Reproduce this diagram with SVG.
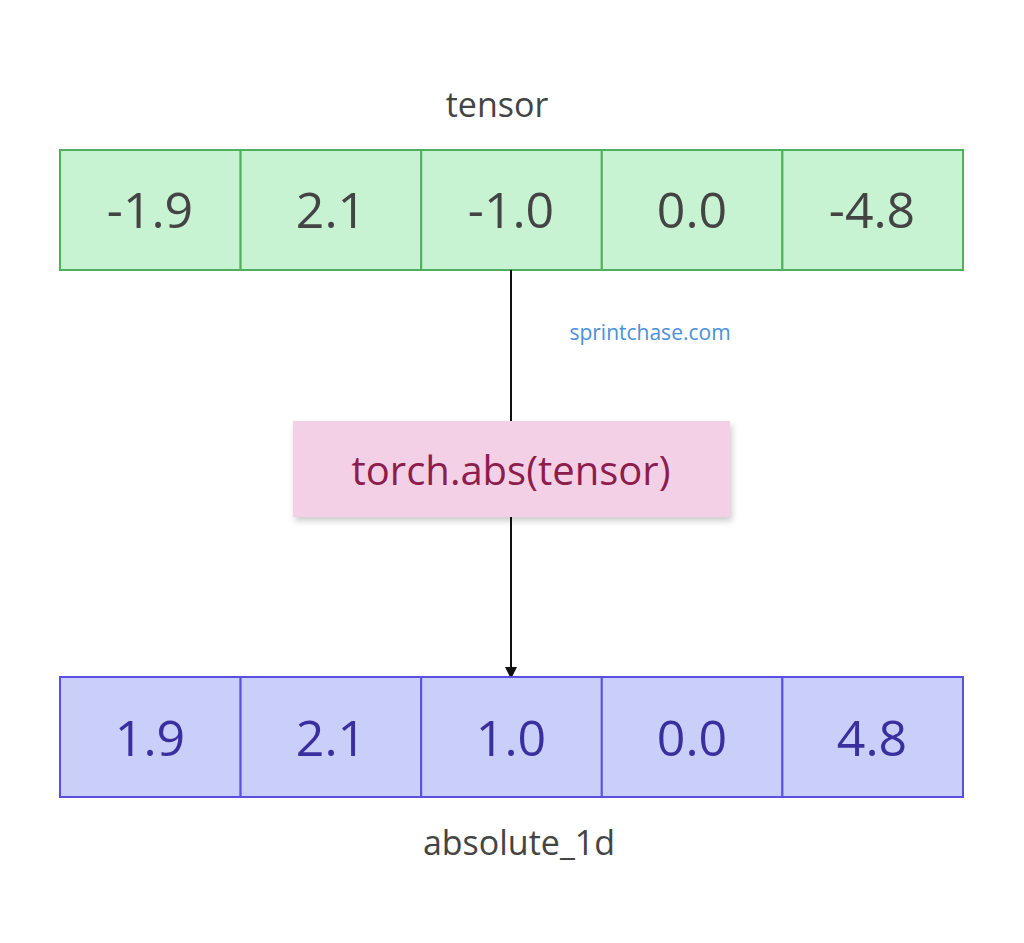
<svg xmlns="http://www.w3.org/2000/svg" width="1024" height="943" viewBox="0 0 1024 943">
<style>
.t{font-family:"Open Sans",sans-serif;text-anchor:middle}
.g{fill:#c8f3d3;stroke:#4eb05a;stroke-width:2}
.b{fill:#c9cff8;stroke:#5a4fe0;stroke-width:2}
.n{font-size:50px}
</style>
<defs>
<marker id="ah" markerWidth="12" markerHeight="12" refX="10" refY="6" orient="auto" markerUnits="userSpaceOnUse"><path d="M0,0 L12,6 L0,12 z" fill="#111"/></marker>
<filter id="sh" x="-10%" y="-10%" width="130%" height="140%"><feDropShadow dx="2" dy="4" stdDeviation="3" flood-opacity="0.2"/></filter>
</defs>
<rect width="1024" height="943" fill="#fff"/>
<text class="t" x="497" y="117" font-size="34" fill="#444">tensor</text>
<g id="top">
<rect class="g" x="60" y="150" width="180.6" height="120"/>
<rect class="g" x="240.6" y="150" width="180.6" height="120"/>
<rect class="g" x="421.2" y="150" width="180.6" height="120"/>
<rect class="g" x="601.8" y="150" width="180.6" height="120"/>
<rect class="g" x="782.4" y="150" width="180.6" height="120"/>
<g class="t n" fill="#444">
<text x="150" y="228">-1.9</text><text x="331" y="228">2.1</text><text x="511" y="228">-1.0</text><text x="692" y="228">0.0</text><text x="872" y="228">-4.8</text>
</g>
</g>
<g id="connectors">
<line x1="511" y1="270" x2="511" y2="421" stroke="#111" stroke-width="2"/>
<line x1="511" y1="517" x2="511" y2="677" stroke="#111" stroke-width="2" marker-end="url(#ah)"/>
</g>
<text class="t" x="650" y="340" font-size="21" fill="#4a90d9">sprintchase.com</text>
<g id="op">
<rect x="293" y="421" width="437" height="96" fill="#f4d0e6" filter="url(#sh)"/>
<text class="t" x="511" y="485" font-size="40" fill="#8c1d4c">torch.abs(tensor)</text>
</g>
<g id="bottom">
<rect class="b" x="60" y="677" width="180.6" height="120"/>
<rect class="b" x="240.6" y="677" width="180.6" height="120"/>
<rect class="b" x="421.2" y="677" width="180.6" height="120"/>
<rect class="b" x="601.8" y="677" width="180.6" height="120"/>
<rect class="b" x="782.4" y="677" width="180.6" height="120"/>
<g class="t n" fill="#3a2f9e">
<text x="150" y="756">1.9</text><text x="331" y="756">2.1</text><text x="511" y="756">1.0</text><text x="692" y="756">0.0</text><text x="872" y="756">4.8</text>
</g>
</g>
<text class="t" x="519" y="855" font-size="34" fill="#444">absolute_1d</text>
</svg>
